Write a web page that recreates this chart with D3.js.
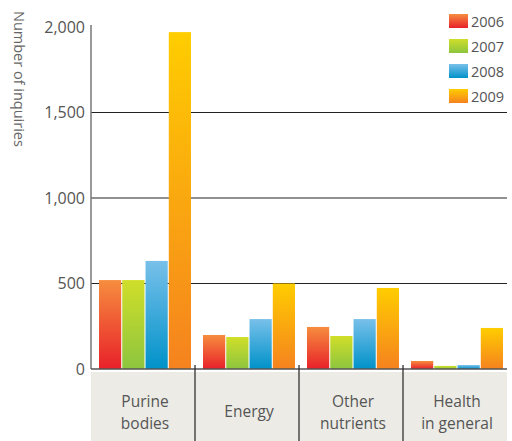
<!DOCTYPE html>
<html>
<head>
<meta charset="utf-8">
<script src="https://cdn.jsdelivr.net/npm/d3@7"></script>
<style>
  body { margin: 0; background: #fff; }
  text { font-family: "Open Sans", "DejaVu Sans", sans-serif; fill: #555; }
</style>
</head>
<body>
<script>
var width = 512;
var height = 441;
var margin = {top: 27, right: 5, bottom: 72, left: 91};
var w = width - margin.left - margin.right;
var h = height - margin.top - margin.bottom;

var categories = [["Purine", "bodies"], ["Energy"], ["Other", "nutrients"], ["Health", "in general"]];
var years = ["2006", "2007", "2008", "2009"];
var v2006 = [520, 199, 246, 47];
var v2007 = [520, 187, 193, 18];
var v2008 = [632, 292, 292, 23];
var v2009 = [1970, 500, 474, 240];
var series = [v2006, v2007, v2008, v2009];
var yTicks = [0, 500, 1000, 1500, 2000];
var colors = [["#f68d3e", "#e8212a"], ["#d0de29", "#8dc53f"], ["#78c0ea", "#0092c9"], ["#ffcd00", "#f5821f"]];

var svg = d3.select("body").append("svg")
  .attr("width", width)
  .attr("height", height);

var defs = svg.append("defs");
colors.forEach(function(c, i) {
  var g = defs.append("linearGradient")
    .attr("id", "grad" + i)
    .attr("x1", 0).attr("y1", 0).attr("x2", 0).attr("y2", 1);
  g.append("stop").attr("offset", "0%").attr("stop-color", c[0]);
  g.append("stop").attr("offset", "100%").attr("stop-color", c[1]);
});

var chart = svg.append("g")
  .attr("transform", "translate(" + margin.left + "," + margin.top + ")");

var x0 = d3.scaleBand()
  .domain(d3.range(categories.length))
  .range([0, w]);

var x1 = d3.scaleBand()
  .domain(d3.range(years.length))
  .range([8, x0.bandwidth() - 4])
  .paddingInner(0.045);

var y = d3.scaleLinear()
  .domain([0, 2000])
  .range([h, 0]);

// category band
chart.append("rect")
  .attr("x", 0)
  .attr("y", h + 3)
  .attr("width", w)
  .attr("height", height - margin.top - h - 3)
  .attr("fill", "#ecebe5");

// grid lines
chart.selectAll(".grid")
  .data(yTicks.filter(function(d) { return d > 0 && d < 2000; }))
  .enter()
  .append("line")
  .attr("x1", 0).attr("x2", w)
  .attr("y1", function(d) { return y(d); })
  .attr("y2", function(d) { return y(d); })
  .attr("stroke", "#222")
  .attr("stroke-width", 1.2);

// y axis
var yAxis = chart.append("g")
  .call(d3.axisLeft(y).tickValues(yTicks).tickSize(0).tickPadding(6).tickFormat(d3.format(",")));
yAxis.select(".domain").remove();
yAxis.selectAll("text")
  .style("font-size", "16px")
  .style("fill", "#555");

chart.append("line")
  .attr("x1", 0).attr("x2", 0)
  .attr("y1", -2).attr("y2", h)
  .attr("stroke", "#777")
  .attr("stroke-width", 1.5);

// bars
var groups = chart.selectAll(".group")
  .data(categories)
  .enter()
  .append("g")
  .attr("transform", function(d, i) { return "translate(" + x0(i) + ",0)"; });

groups.selectAll("rect")
  .data(function(d, i) { return series.map(function(s, j) { return {year: j, value: s[i]}; }); })
  .enter()
  .append("rect")
  .attr("x", function(d) { return x1(d.year); })
  .attr("width", x1.bandwidth())
  .attr("y", function(d) { return y(d.value); })
  .attr("height", function(d) { return h - y(d.value); })
  .attr("fill", function(d) { return "url(#grad" + d.year + ")"; });

// baseline
chart.append("line")
  .attr("x1", 0).attr("x2", w)
  .attr("y1", h).attr("y2", h)
  .attr("stroke", "#555")
  .attr("stroke-width", 1.5);

// separators
chart.selectAll(".sep")
  .data(d3.range(1, categories.length))
  .enter()
  .append("line")
  .attr("x1", function(d) { return x0(d); })
  .attr("x2", function(d) { return x0(d); })
  .attr("y1", h - 4)
  .attr("y2", height - margin.top)
  .attr("stroke", "#222")
  .attr("stroke-width", 1.2);

// category labels, one text per line
groups.each(function(d) {
  var g = d3.select(this);
  var startY = d.length > 1 ? h + 38 : h + 48;
  d.forEach(function(line, k) {
    g.append("text")
      .attr("text-anchor", "middle")
      .attr("x", x0.bandwidth() / 2 + 2)
      .attr("y", startY + k * 21.5)
      .style("font-size", "15.5px")
      .text(line);
  });
});

// y label
svg.append("text")
  .attr("transform", "translate(14,11) rotate(90)")
  .style("font-size", "14.5px")
  .style("fill", "#666")
  .text("Number of inquiries");

// legend
var legend = svg.append("g")
  .attr("transform", "translate(449,14)");
var items = legend.selectAll("g")
  .data(years)
  .enter()
  .append("g")
  .attr("transform", function(d, i) { return "translate(0," + (i * 25) + ")"; });
items.append("rect")
  .attr("width", 19)
  .attr("height", 14)
  .attr("fill", function(d, i) { return "url(#grad" + i + ")"; });
items.append("text")
  .attr("x", 22)
  .attr("y", 13)
  .style("font-size", "14.5px")
  .text(function(d) { return d; });
</script>
</body>
</html>
